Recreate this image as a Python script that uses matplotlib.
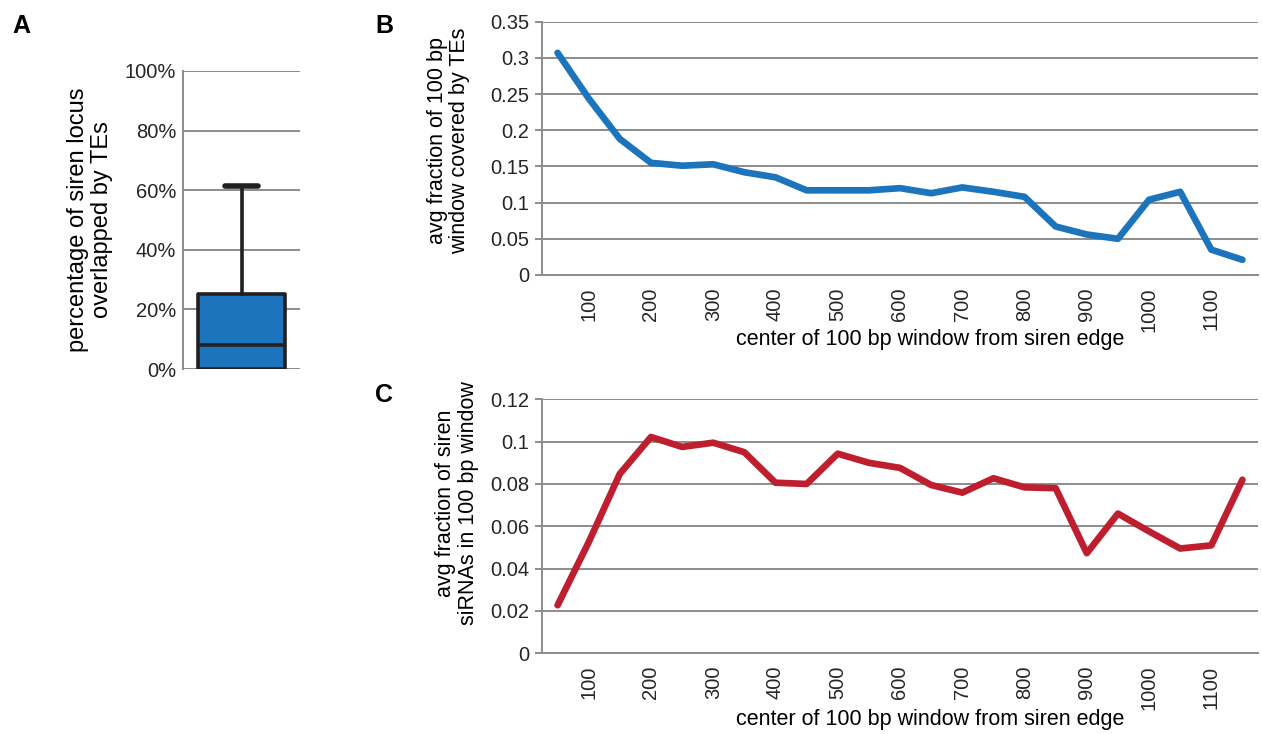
import matplotlib
matplotlib.use("Agg")
import matplotlib.pyplot as plt

plt.rcParams['font.family'] = ['Liberation Sans', 'DejaVu Sans']

# ---------------- data ----------------
window_centers = [50, 100, 150, 200, 250, 300, 350, 400, 450, 500, 550, 600,
                  650, 700, 750, 800, 850, 900, 950, 1000, 1050, 1100, 1150]
te_fraction = [0.307, 0.244, 0.188, 0.155, 0.151, 0.153, 0.142, 0.135, 0.117,
               0.117, 0.117, 0.120, 0.113, 0.121, 0.115, 0.108, 0.067, 0.056,
               0.050, 0.104, 0.115, 0.035, 0.021]
sirna_fraction = [0.0227, 0.0525, 0.0848, 0.1022, 0.0975, 0.0995, 0.095, 0.0806,
                  0.080, 0.0943, 0.090, 0.0876, 0.0795, 0.0759, 0.0827, 0.0784,
                  0.078, 0.0473, 0.066, 0.0576, 0.0495, 0.051, 0.082]
te_box = dict(q1=0.0, med=8.2, q3=25.2, whislo=0.0, whishi=61.5)
pct_ticks = [0, 20, 40, 60, 80, 100]
b_ticks = [0, 0.05, 0.1, 0.15, 0.2, 0.25, 0.3, 0.35]
b_ticklabels = ['0', '0.05', '0.1', '0.15', '0.2', '0.25', '0.3', '0.35']
c_ticks = [0, 0.02, 0.04, 0.06, 0.08, 0.1, 0.12]
c_ticklabels = ['0', '0.02', '0.04', '0.06', '0.08', '0.1', '0.12']

GRID = '#8c8c8c'
TICKC = '#262626'
BLUE = '#1c75bc'
RED = '#be1e2d'
BOXEDGE = '#231f20'

W, H = 1262, 734
fig = plt.figure(figsize=(W / 100, H / 100), dpi=100)


def px_axes(left, right, top, bottom):
    return fig.add_axes([left / W, 1 - bottom / H, (right - left) / W, (bottom - top) / H])


def style(ax):
    for s in ['top', 'right']:
        ax.spines[s].set_visible(False)
    for s in ['left', 'bottom']:
        ax.spines[s].set_color(GRID)
        ax.spines[s].set_linewidth(1.4)
    ax.yaxis.grid(True, color=GRID, linewidth=1.4)
    ax.set_axisbelow(True)


# ---------------- panel A ----------------
axA = px_axes(183, 300, 71, 369)
style(axA)
axA.spines['bottom'].set_visible(False)
stats = [dict(te_box, fliers=[])]
parts = axA.bxp(stats, positions=[0], widths=0.752, showfliers=False, patch_artist=True,
                capwidths=0.29,
                boxprops=dict(facecolor=BLUE, edgecolor=BOXEDGE, linewidth=2.6,
                              joinstyle='round'),
                medianprops=dict(color=BOXEDGE, linewidth=2.6),
                whiskerprops=dict(color=BOXEDGE, linewidth=2.6),
                capprops=dict(color=BOXEDGE, linewidth=4.0, solid_capstyle='round'))
parts['caps'][0].set_visible(False)
parts['whiskers'][0].set_visible(False)
axA.set_xlim(-0.5, 0.5)
axA.set_ylim(0, 100)
axA.set_yticks(pct_ticks)
axA.set_yticklabels([f'{v}%' for v in pct_ticks])
axA.set_xticks([])
axA.tick_params(axis='y', length=0, pad=5, labelsize=14.5, labelcolor=TICKC)
axA.set_ylabel('percentage of siren locus\noverlapped by TEs', fontsize=17, linespacing=1.1)
axA.yaxis.set_label_coords(-0.6, 0.5)

# ---------------- panels B and C ----------------
xidx = list(range(len(window_centers)))
tick_idx = [i for i, c in enumerate(window_centers) if c % 100 == 0]
tick_lab = [str(window_centers[i]) for i in tick_idx]

axB = px_axes(542, 1258, 21.7, 275)
style(axB)
axB.plot(xidx, te_fraction, color=BLUE, linewidth=4.8,
         solid_joinstyle='round', solid_capstyle='round')
axB.set_xlim(-0.5, len(window_centers) - 0.5)
axB.set_ylim(0, 0.35)
axB.set_yticks(b_ticks)
axB.set_yticklabels(b_ticklabels)

axC = px_axes(542, 1258, 399.3, 653.3)
style(axC)
axC.plot(xidx, sirna_fraction, color=RED, linewidth=4.8,
         solid_joinstyle='round', solid_capstyle='round')
axC.set_xlim(-0.5, len(window_centers) - 0.5)
axC.set_ylim(0, 0.12)
axC.set_yticks(c_ticks)
axC.set_yticklabels(c_ticklabels)

for ax in (axB, axC):
    ax.set_xticks(tick_idx)
    ax.set_xticklabels(tick_lab, rotation=90)
    ax.tick_params(axis='x', length=0, pad=9, labelsize=14.5, labelcolor=TICKC)
    ax.tick_params(axis='y', length=5, width=1.4, color=GRID, pad=4,
                   labelsize=14.5, labelcolor=TICKC)
    ax.set_xlabel('center of 100 bp window from siren edge', fontsize=15.5)

axB.xaxis.set_label_coords((930 - 542) / 716, -0.215)
axC.xaxis.set_label_coords((930 - 542) / 716, -0.22)
axB.set_ylabel('avg fraction of 100 bp\nwindow covered by TEs', fontsize=15.5, linespacing=1.1)
axB.yaxis.set_label_coords(-0.1, 0.53)
axC.set_ylabel('avg fraction of siren\nsiRNAs in 100 bp window', fontsize=15.5, linespacing=1.1)
axC.yaxis.set_label_coords(-0.088, 0.59)

# panel letters
fig.text(12 / W, 1 - 33 / H, 'A', fontsize=18, fontweight='bold', va='baseline')
fig.text(375 / W, 1 - 33 / H, 'B', fontsize=18, fontweight='bold', va='baseline')
fig.text(375 / W, 1 - 402 / H, 'C', fontsize=18, fontweight='bold', va='baseline')

fig.savefig('out.png', dpi=100, facecolor='white')
